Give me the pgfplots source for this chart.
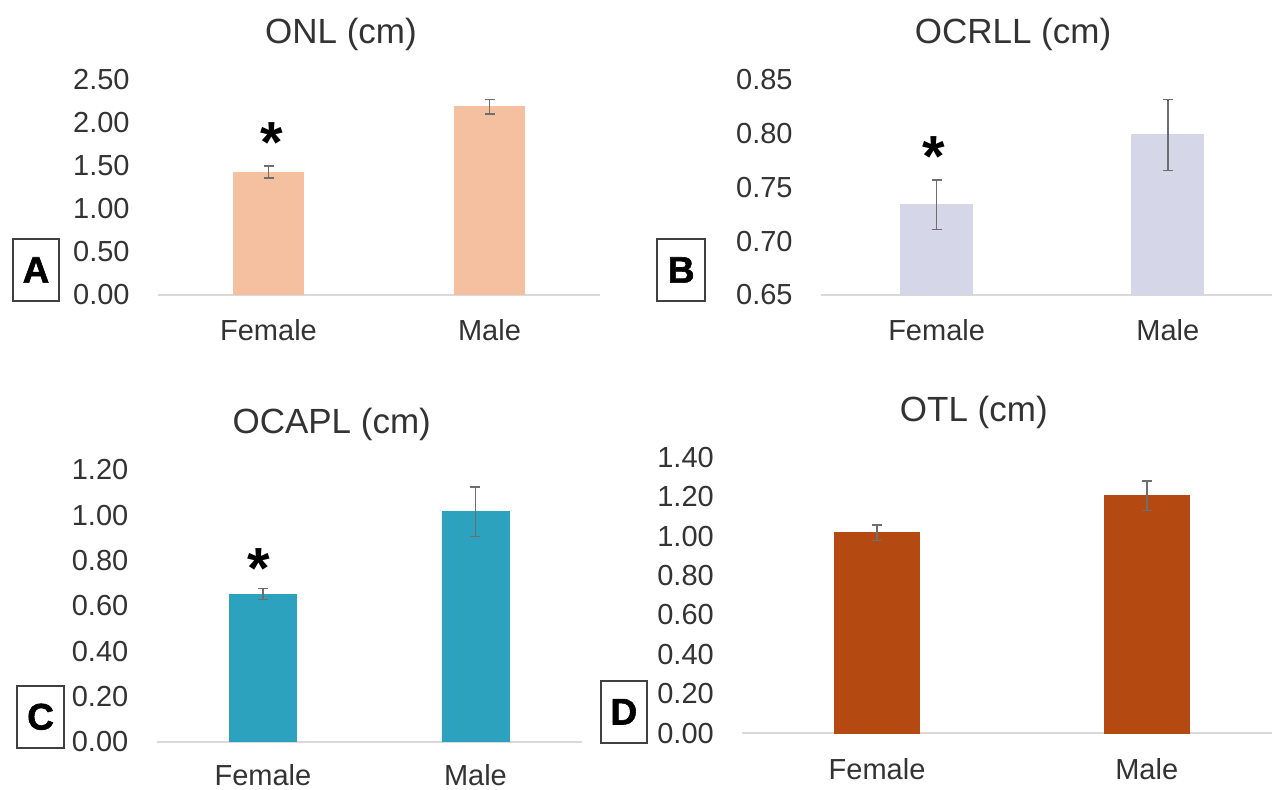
\documentclass[border=0pt]{standalone}
\usepackage{fontspec}
\setmainfont{Liberation Sans}
\newfontfamily\boxfont[FakeBold=1.5]{Liberation Sans Bold}
\usepackage{pgfplots}
\pgfplotsset{compat=1.18}
\definecolor{barA}{HTML}{F4C0A0}
\definecolor{barB}{HTML}{D5D7E8}
\definecolor{barC}{HTML}{2CA2BE}
\definecolor{barD}{HTML}{B44A12}
\definecolor{axisgray}{HTML}{D9D9D9}
\definecolor{errgray}{HTML}{6E6E6E}
\definecolor{tickgray}{HTML}{333333}
\definecolor{boxgray}{HTML}{404040}
\pgfplotsset{
  panel/.style={
    scale only axis, anchor=south west,
    axis x line*=bottom, axis y line*=left,
    x axis line style={-, draw=axisgray, line width=1pt},
    y axis line style={draw=none},
    major tick length=0pt, tick style={draw=none},
    xmin=-0.5, xmax=1.5, xtick={0,1}, xticklabels={Female,Male},
    ybar,
    tick label style={font=\fontsize{14.5}{17}\selectfont, text=tickgray},
    xticklabel style={anchor=base, inner sep=0pt, yshift=-23pt},
    yticklabel style={anchor=east, inner sep=0pt, xshift=-14pt},
    /pgf/number format/fixed, /pgf/number format/fixed zerofill,
    /pgf/number format/precision=2, /pgf/number format/assume math mode=true,
  },
  errstyle/.style={
    error bars/.cd, y dir=both, y explicit,
    error bar style={draw=errgray, line width=0.75pt, solid},
    error mark=-,
    error mark options={rotate=90, draw=errgray, line width=0.75pt, mark size=2.5pt, solid},
  },
}
\tikzset{
  ttl/.style={anchor=base, font=\fontsize{17.5}{20}\selectfont, text=tickgray},
  lbox/.style={draw=boxgray, line width=0.9pt, fill=white},
  ast/.style={inner sep=0pt, font=\fontsize{29}{30}\selectfont\bfseries},
  blet/.style={font=\fontsize{18.5}{20}\boxfont},
}
\begin{document}
\begin{tikzpicture}
\fill[white] (0,0) rectangle (636pt,395pt);
\useasboundingbox (0,0) rectangle (636pt,395pt);
\clip (0,0) rectangle (636pt,395pt);

% ---------- Panel A ----------
\node[ttl] at (170.5pt,373.35pt) {ONL (cm)};
\begin{axis}[panel, at={(79pt,247.5pt)}, width=221pt, height=107.5pt,
  ymin=0, ymax=2.5, ytick={0,0.5,1,1.5,2,2.5}, bar width=35pt]
\addplot[fill=barA, draw=barA, errstyle] coordinates {(0,1.43) +- (0,0.067) (1,2.19) +- (0,0.085)};
\node[ast] at (axis cs:0.015,1.767) {*};
\end{axis}
\draw[lbox] (6.35pt,244.5pt) rectangle (29.65pt,275.5pt);
\node[blet] at (18pt,260pt) {A};

% ---------- Panel B ----------
\node[ttl] at (506.5pt,373.35pt) {OCRLL (cm)};
\begin{axis}[panel, at={(410.5pt,247.5pt)}, width=231.2pt, height=107.5pt,
  ymin=0.65, ymax=0.85, ytick={0.65,0.70,0.75,0.80,0.85}, bar width=36pt]
\addplot[fill=barB, draw=barB, errstyle] coordinates {(0,0.734) +- (0,0.023) (1,0.799) +- (0,0.033)};
\node[ast] at (axis cs:-0.011,0.7787) {*};
\end{axis}
\draw[lbox] (328.65pt,244.5pt) rectangle (352.5pt,275.5pt);
\node[blet] at (340.6pt,260pt) {B};

% ---------- Panel C ----------
\node[ttl] at (165.85pt,178pt) {OCAPL (cm)};
\begin{axis}[panel, at={(78.35pt,24.15pt)}, width=212.5pt, height=135.85pt,
  ymin=0, ymax=1.2, ytick={0,0.2,0.4,0.6,0.8,1.0,1.2}, bar width=33.5pt,
  xticklabel style={yshift=1pt}]
\addplot[fill=barC, draw=barC, errstyle] coordinates {(0,0.652) +- (0,0.024) (1,1.016) +- (0,0.109)};
\node[ast] at (axis cs:-0.02,0.766) {*};
\end{axis}
\draw[lbox] (8.65pt,21.15pt) rectangle (32pt,52pt);
\node[blet] at (20.3pt,36.6pt) {C};

% ---------- Panel D ----------
\node[ttl] at (486.9pt,184.15pt) {OTL (cm)};
\begin{axis}[panel, at={(371.1pt,28.35pt)}, width=269.7pt, height=138pt,
  ymin=0, ymax=1.4, ytick={0,0.2,0.4,0.6,0.8,1.0,1.2,1.4}, bar width=42.5pt]
\addplot[fill=barD, draw=barD, errstyle] coordinates {(0,1.018) +- (0,0.039) (1,1.206) +- (0,0.075)};
\end{axis}
\draw[lbox] (300.5pt,23.65pt) rectangle (323.35pt,54.5pt);
\node[blet] at (311.9pt,39.1pt) {D};
\end{tikzpicture}
\end{document}
